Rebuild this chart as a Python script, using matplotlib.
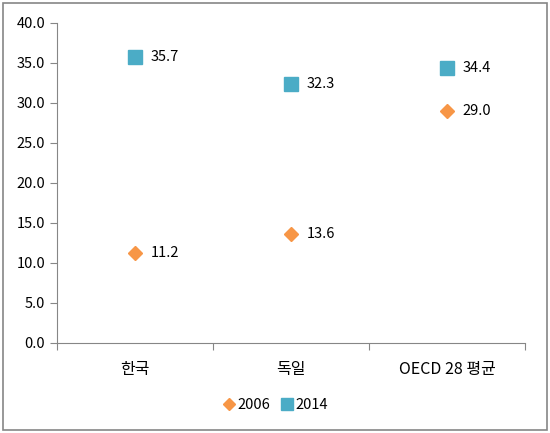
import matplotlib.pyplot as plt
from matplotlib.patches import Rectangle

plt.rcParams['font.family'] = ['Noto Sans CJK KR', 'DejaVu Sans']

categories = ["한국", "독일", "OECD 28 평균"]
values_2006 = [11.2, 13.6, 29.0]
values_2014 = [35.7, 32.3, 34.4]

orange = "#F79646"
teal = "#4BACC6"

fig = plt.figure(figsize=(5.5, 4.33), dpi=100)
ax = fig.add_axes([0.1036, 0.2079, 0.851, 0.7397])

x = [1, 2, 3]
ax.plot(x, values_2006, linestyle="none", marker="D", markersize=6.8, color=orange, label="2006")
ax.plot(x, values_2014, linestyle="none", marker="s", markersize=9.5, color=teal, label="2014")

for xi, v in zip(x, values_2006):
    ax.annotate(f"{v:.1f}", (xi, v), xytext=(11, 0), textcoords="offset points",
                va="center", ha="left", fontsize=10.5)
for xi, v in zip(x, values_2014):
    ax.annotate(f"{v:.1f}", (xi, v), xytext=(11, 0), textcoords="offset points",
                va="center", ha="left", fontsize=10.5)

ax.set_xlim(0.5, 3.5)
ax.set_ylim(0, 40)
ax.set_yticks([i * 5 for i in range(9)])
ax.set_yticklabels([f"{i * 5:.1f}" for i in range(9)], fontsize=10.5)
ax.set_xticks([0.5, 1.5, 2.5, 3.5])
ax.set_xticklabels([])
ax.set_xticks(x, minor=True)
ax.set_xticklabels(categories, minor=True, fontsize=11.5)
ax.tick_params(axis="x", which="minor", length=0, pad=13)
ax.tick_params(axis="x", which="major", length=5, color="#868686")
ax.tick_params(axis="y", length=5, color="#868686")

for side in ["top", "right"]:
    ax.spines[side].set_visible(False)
ax.spines["left"].set_color("#868686")
ax.spines["bottom"].set_color("#868686")

fig.legend(loc="lower center", bbox_to_anchor=(0.5, 0.018), ncol=2, frameon=False,
           fontsize=10.5, handletextpad=0.1, columnspacing=0.6, handlelength=1.0,
           markerscale=0.85)

fig.patches.append(Rectangle((0.006, 0.007), 0.988, 0.986, transform=fig.transFigure,
                             fill=False, edgecolor="#868686", linewidth=1.2))

fig.savefig("out.png", dpi=100)
